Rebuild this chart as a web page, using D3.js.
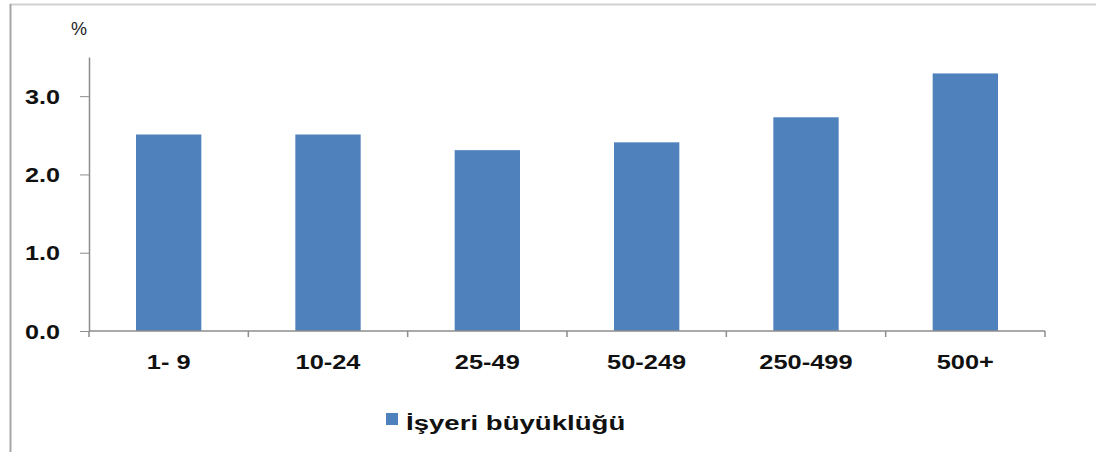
<!DOCTYPE html>
<html>
<head>
<meta charset="utf-8">
<script src="https://cdn.jsdelivr.net/npm/d3@7"></script>
<style>
  body { margin: 0; background: #fff; }
  svg { display: block; }
</style>
</head>
<body>
<div id="chart"></div>
<script>
// Chart data
var categories = ["1- 9", "10-24", "25-49", "50-249", "250-499", "500+"];
var values = [2.51, 2.51, 2.31, 2.41, 2.73, 3.29];
var yTicks = [0, 1, 2, 3];
var seriesName = "İşyeri büyüklüğü";

// the source font is wider than Arial, so stretch text a bit
function stretch(sel, factor) {
    sel.each(function() {
        var w = this.getComputedTextLength();
        d3.select(this)
            .attr("textLength", w * factor)
            .attr("lengthAdjust", "spacingAndGlyphs");
    });
}

function renderChart(el) {
    var width = 1096, height = 452;
    var margin = {left: 89, right: 51, top: 57, bottom: 121};
    var font = "Liberation Sans, Arial, sans-serif";

    var svg = d3.select("#" + el)
        .append("svg")
        .attr("width", width)
        .attr("height", height);

    // Frame lines at top and left
    svg.append("line")
        .attr("x1", 10).attr("x2", width).attr("y1", 4.5).attr("y2", 4.5)
        .attr("stroke", "#d2d2d2").attr("stroke-width", 2);
    svg.append("line")
        .attr("x1", 10.5).attr("x2", 10.5).attr("y1", 4).attr("y2", height)
        .attr("stroke", "#a6a6a6").attr("stroke-width", 2);

    var x = d3.scaleBand()
        .domain(categories)
        .range([margin.left, width - margin.right])
        .paddingInner(0.59)
        .paddingOuter(0.295);

    var y = d3.scaleLinear()
        .domain([0, 3.5])
        .range([height - margin.bottom, margin.top]);

    // Bars
    svg.append("g")
        .selectAll("rect")
        .data(values)
        .enter()
        .append("rect")
        .attr("x", function(d, i) { return x(categories[i]); })
        .attr("width", x.bandwidth())
        .attr("y", function(d) { return y(d); })
        .attr("height", function(d) { return y(0) - y(d); })
        .attr("fill", "#4f81bd");

    // Y axis
    var yAxis = svg.append("g")
        .attr("transform", "translate(" + margin.left + ",0)")
        .call(d3.axisLeft(y).tickValues(yTicks).tickFormat(d3.format(".1f")).tickSize(9).tickSizeOuter(0));
    yAxis.select(".domain").attr("stroke", "#8c8c8c").attr("stroke-width", 1.5);
    yAxis.selectAll(".tick line").attr("stroke", "#8c8c8c");
    var yLabels = yAxis.selectAll(".tick text")
        .attr("x", -64)
        .attr("dy", "0.36em")
        .attr("text-anchor", "start")
        .attr("font-family", font)
        .attr("font-weight", "bold")
        .attr("font-size", "20px")
        .attr("fill", "#111");
    stretch(yLabels, 1.26);

    // X axis with ticks at band boundaries
    var xAxisG = svg.append("g")
        .attr("transform", "translate(0," + y(0) + ")");
    xAxisG.append("line")
        .attr("x1", margin.left).attr("x2", width - margin.right)
        .attr("stroke", "#8c8c8c").attr("stroke-width", 1.5);
    var step = x.step();
    var bounds = d3.range(categories.length + 1).map(function(i) {
        return margin.left + i * step;
    });
    xAxisG.selectAll(".xt")
        .data(bounds)
        .enter()
        .append("line")
        .attr("x1", function(d) { return d; })
        .attr("x2", function(d) { return d; })
        .attr("y1", 0).attr("y2", 6)
        .attr("stroke", "#8c8c8c").attr("stroke-width", 1.5);
    var xLabels = xAxisG.selectAll(".xl")
        .data(categories)
        .enter()
        .append("text")
        .attr("x", function(d) { return x(d) + x.bandwidth() / 2; })
        .attr("y", 38)
        .attr("text-anchor", "middle")
        .attr("font-family", font)
        .attr("font-weight", "bold")
        .attr("font-size", "20px")
        .attr("fill", "#111")
        .text(function(d) { return d; });
    stretch(xLabels, 1.27);

    // Unit label
    svg.append("text")
        .attr("x", 71).attr("y", 35)
        .attr("font-family", font)
        .attr("font-size", "18px")
        .attr("fill", "#222")
        .text("%");

    // Legend
    svg.append("rect")
        .attr("x", 386).attr("y", 413)
        .attr("width", 12).attr("height", 12)
        .attr("fill", "#4f81bd");
    var legText = svg.append("text")
        .attr("x", 406).attr("y", 430)
        .attr("font-family", font)
        .attr("font-weight", "bold")
        .attr("font-size", "20px")
        .attr("fill", "#111")
        .text(seriesName);
    stretch(legText, 1.38);
}

renderChart("chart");
</script>
</body>
</html>
